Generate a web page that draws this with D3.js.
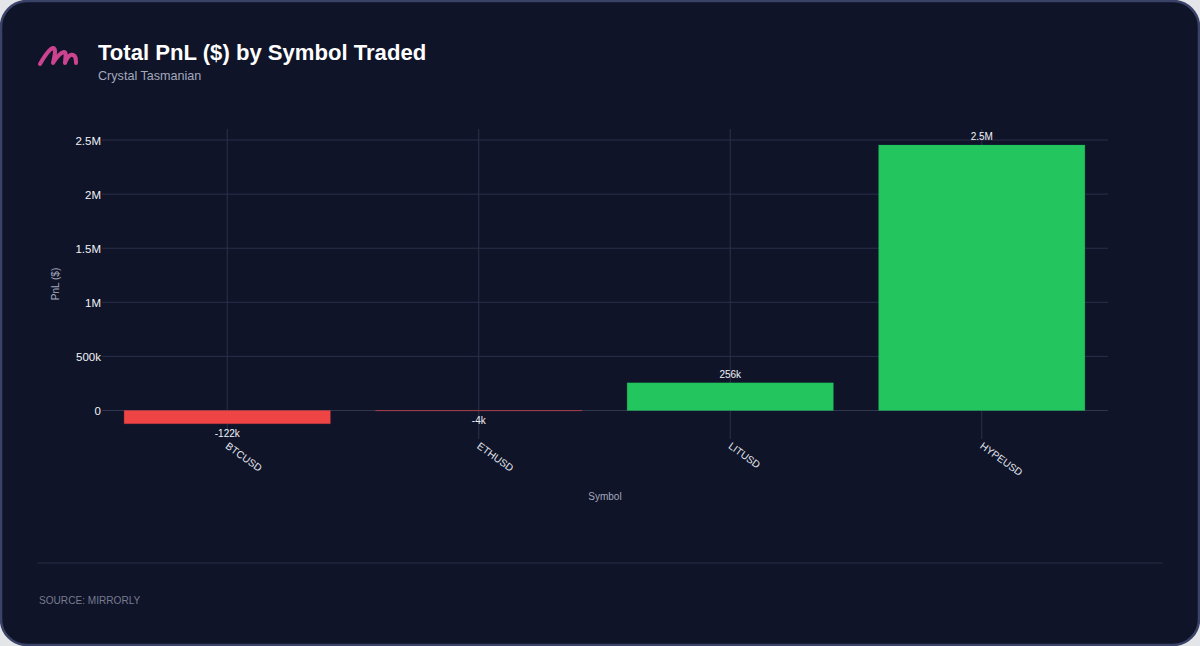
<!DOCTYPE html>
<html><head><meta charset="utf-8">
<script src="https://cdn.jsdelivr.net/npm/d3@7/dist/d3.min.js"></script>
<style>
html,body{margin:0;padding:0;background:#e4e5e9;width:1200px;height:646px;overflow:hidden}
svg{display:block}
text{font-family:"Liberation Sans",Arial,sans-serif}
</style></head><body>
<svg id="c" width="1200" height="646"></svg>
<script>
const symbols = ["BTCUSD","ETHUSD","LITUSD","HYPEUSD"];
const pnl = [-122000,-4000,256000,2454000];
const pnlLabels = ["-122k","-4k","256k","2.5M"];
const yTicks = [0,500000,1000000,1500000,2000000,2500000];
const yTickLabels = ["0","500k","1M","1.5M","2M","2.5M"];
const titleText = "Total PnL ($) by Symbol Traded";
const subtitleText = "Crystal Tasmanian";
const sourceText = "SOURCE: MIRRORLY";
const xTitle = "Symbol", yTitle = "PnL ($)";

const svg = d3.select("#c");
svg.append("rect").attr("x",1).attr("y",1).attr("width",1198).attr("height",644).attr("rx",26)
  .attr("fill","#0f1429").attr("stroke","#3a4268").attr("stroke-width",2.5);

svg.append("path")
  .attr("d","M40 64 C44 57 49 49 53 48 C57 48 54 58 53 63 C56 58 60 53 64 52 C67 52 65 58 65 63 C67 58 70 54 73 55 C76 56 76 59 76 63")
  .attr("fill","none").attr("stroke","#cc4490").attr("stroke-width",4).attr("stroke-linecap","round").attr("stroke-linejoin","round");

svg.append("text").attr("x",98).attr("y",60).attr("fill","#fff").attr("font-size",22.1).attr("font-weight",700).text(titleText);
svg.append("text").attr("x",98).attr("y",80).attr("fill","#a3a8bb").attr("font-size",12.6).text(subtitleText);

const x = d3.scaleBand().domain(symbols).range([101.5,1107.5]).paddingInner(0.18).paddingOuter(0.09);
const y = d3.scaleLinear().domain([-263400,2602000]).range([439,129]);
const grid = "#2a3049";

const g = svg.append("g");
g.selectAll(".h").data(yTicks).join("line").attr("x1",102).attr("x2",1108)
  .attr("y1",d=>y(d)).attr("y2",d=>y(d)).attr("stroke",d=>d===0?"#30364f":grid).attr("stroke-width",1);
g.selectAll(".v").data(symbols).join("line")
  .attr("x1",d=>x(d)+x.bandwidth()/2).attr("x2",d=>x(d)+x.bandwidth()/2)
  .attr("y1",129).attr("y2",439).attr("stroke",grid).attr("stroke-width",1);

g.selectAll(".b").data(symbols).join("rect")
  .attr("x",d=>x(d)).attr("width",x.bandwidth())
  .attr("y",(d,i)=>y(Math.max(0,pnl[i])))
  .attr("height",(d,i)=>Math.abs(y(pnl[i])-y(0)))
  .attr("fill",(d,i)=>pnl[i]<0?"#ef4444":"#22c55e")
  .attr("stroke",(d,i)=>pnl[i]<0?"#ef4444":"#22c55e").attr("stroke-opacity",.22).attr("stroke-width",1);

g.selectAll(".l").data(symbols).join("text")
  .attr("x",d=>x(d)+x.bandwidth()/2)
  .attr("y",(d,i)=>pnl[i]<0?y(pnl[i])+13:y(pnl[i])-5)
  .attr("text-anchor","middle").attr("fill","#f2f3f7").attr("font-size",10)
  .text((d,i)=>pnlLabels[i]);

g.selectAll(".yt").data(yTicks).join("text")
  .attr("x",101).attr("y",d=>y(d)+4.5).attr("text-anchor","end").attr("fill","#f2f3f7").attr("font-size",11.5)
  .text((d,i)=>yTickLabels[i]);

g.selectAll(".xt").data(symbols).join("text")
  .attr("transform",d=>`translate(${x(d)+x.bandwidth()/2-2.5},447.5) rotate(36)`)
  .attr("fill","#e2e4ec").attr("font-size",10.2).text(d=>d);

svg.append("text").attr("x",605).attr("y",500).attr("text-anchor","middle").attr("fill","#a3a8bb").attr("font-size",10).text(xTitle);
svg.append("text").attr("transform","translate(59,284) rotate(-90)").attr("text-anchor","middle").attr("fill","#a3a8bb").attr("font-size",10).text(yTitle);

svg.append("line").attr("x1",37).attr("x2",1163).attr("y1",563).attr("y2",563).attr("stroke","#262c47").attr("stroke-width",1);
svg.append("text").attr("x",39).attr("y",604).attr("fill","#777b90").attr("font-size",10.1).text(sourceText);
</script></body></html>
